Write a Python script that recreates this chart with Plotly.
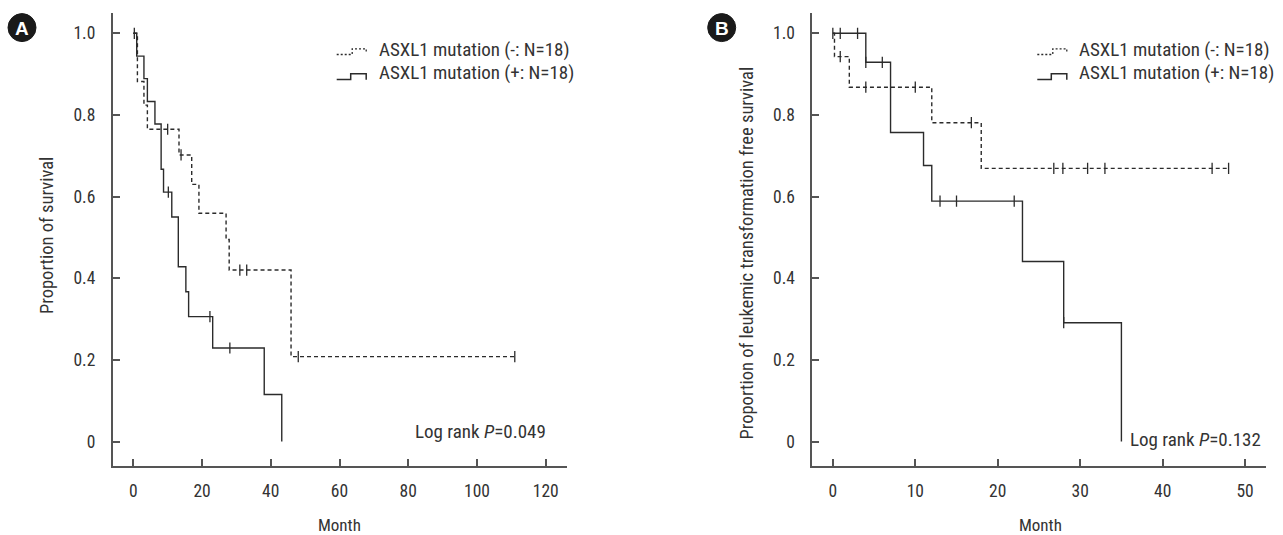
import plotly.graph_objects as go

# ---------------- data ----------------
# Panel A: overall survival
A_neg_time = [0, 1.2, 3.1, 4.1, 13.3, 17.0, 19.1, 27.0, 27.9, 45.9, 111.0]
A_neg_surv = [1.0, 0.882, 0.824, 0.765, 0.702, 0.630, 0.559, 0.495, 0.420, 0.208, 0.208]
A_neg_censor = [0.3, 10.0, 13.9, 31.0, 33.0, 48.0, 111.0]

A_pos_time = [0, 1.0, 3.1, 4.1, 6.3, 8.1, 8.8, 11.2, 13.1, 15.3, 16.1, 23.1, 38.1, 43.2]
A_pos_surv = [1.0, 0.944, 0.889, 0.833, 0.778, 0.667, 0.611, 0.550, 0.428, 0.367, 0.306, 0.229, 0.115, 0.0]
A_pos_censor = [10.2, 22.3, 28.1]

# Panel B: leukemic transformation free survival
B_neg_time = [0, 0.2, 2.0, 12.0, 18.0, 48.0]
B_neg_surv = [1.0, 0.943, 0.868, 0.781, 0.669, 0.669]
B_neg_censor = [0.9, 4.0, 10.0, 16.8, 26.8, 27.9, 30.9, 33.0, 46.0, 48.0]

B_pos_time = [0, 4.0, 7.0, 11.0, 12.0, 23.0, 28.0, 35.0]
B_pos_surv = [1.0, 0.929, 0.757, 0.676, 0.589, 0.441, 0.291, 0.0]
B_pos_censor = [0.0, 0.9, 3.0, 4.0, 6.0, 13.0, 15.0, 22.0, 28.0]

A_xticks = [0, 20, 40, 60, 80, 100, 120]
B_xticks = [0, 10, 20, 30, 40, 50]
y_ticks = [0, 0.2, 0.4, 0.6, 0.8, 1.0]
y_ticktext = ["0", "0.2", "0.4", "0.6", "0.8", "1.0"]

legend_neg = "ASXL1 mutation (-: N=18)"
legend_pos = "ASXL1 mutation (+: N=18)"
A_pval = "Log rank <i>P</i>=0.049"
B_pval = "Log rank <i>P</i>=0.132"
A_ytitle = "Proportion of survival"
B_ytitle = "Proportion of leukemic transformation free survival"
xtitle = "Month"

# ---------------- style ----------------
W, H = 1283, 535
FONT = "Roboto Condensed, Liberation Sans Narrow, Roboto, sans-serif"
LINE = "#2b2b2b"
AX = "#555555"
TXT = "#333333"


def px(x):
    return x / W


def py(y):
    return 1 - y / H


def step_value(times, surv, t):
    v = surv[0]
    for ti, si in zip(times, surv):
        if t >= ti:
            v = si
    return v


fig = go.Figure()


def add_curve(times, surv, censor, dash, xa, ya):
    fig.add_trace(go.Scatter(
        x=times, y=surv, mode="lines", line_shape="hv",
        line=dict(color=LINE, width=1.4, dash=dash),
        xaxis=xa, yaxis=ya, showlegend=False, hoverinfo="skip"))
    fig.add_trace(go.Scatter(
        x=censor, y=[step_value(times, surv, t) for t in censor], mode="markers",
        marker=dict(symbol="line-ns", size=8, line=dict(color=LINE, width=1.3)),
        xaxis=xa, yaxis=ya, showlegend=False, hoverinfo="skip"))


add_curve(A_neg_time, A_neg_surv, A_neg_censor, "4px,3px", "x", "y")
add_curve(A_pos_time, A_pos_surv, A_pos_censor, "solid", "x", "y")
add_curve(B_neg_time, B_neg_surv, B_neg_censor, "4px,3px", "x2", "y2")
add_curve(B_pos_time, B_pos_surv, B_pos_censor, "solid", "x2", "y2")

ydom = [py(465.5), py(12.7)]
common_ax = dict(showgrid=False, zeroline=False, showline=True, linecolor=AX, linewidth=1.6,
                 ticks="inside", ticklen=7, tickwidth=1.5, tickcolor=AX,
                 tickfont=dict(family=FONT, size=17.5, color=TXT), automargin=False)

fig.update_layout(
    width=W, height=H, margin=dict(l=0, r=0, t=0, b=0),
    paper_bgcolor="white", plot_bgcolor="white", showlegend=False,
    xaxis=dict(domain=[px(112.7), px(567.3)], range=[-5.99, 126.28], tickvals=A_xticks,
               anchor="y", ticklabelstandoff=9, **common_ax),
    yaxis=dict(domain=ydom, range=[-0.0588, 1.0505], tickvals=y_ticks, ticktext=y_ticktext,
               anchor="x", ticklabelstandoff=12, **common_ax),
    xaxis2=dict(domain=[px(812.3), px(1265.7)], range=[-2.49, 52.5], tickvals=B_xticks,
                anchor="y2", ticklabelstandoff=9, **common_ax),
    yaxis2=dict(domain=ydom, range=[-0.0588, 1.0505], tickvals=y_ticks, ticktext=y_ticktext,
                anchor="x2", ticklabelstandoff=12, **common_ax),
)

ann = []
shapes = []


def text(x, y, s, size=19, xanchor="center", angle=0, color=TXT, family=FONT, bold=False):
    ann.append(dict(x=px(x), y=py(y), xref="paper", yref="paper", text=("<b>%s</b>" % s) if bold else s,
                    showarrow=False, xanchor=xanchor, yanchor="middle", textangle=angle,
                    font=dict(family=family, size=size, color=color)))


for off, ytitle, ytx, yty, pval, pvx, pvy, lab, labx in [
        (0, A_ytitle, 47, 236, A_pval, 548, 431.5, "A", 22),
        (700.6, B_ytitle, 746.5, 253, B_pval, 1263.3, 439.3, "B", 721.7)]:
    # legend
    text(376.7 + off, 49.2, legend_neg, xanchor="left")
    text(376.7 + off, 72.5, legend_pos, xanchor="left")
    x0 = 336.7 + off
    path_d = "M %f,%f L %f,%f L %f,%f L %f,%f L %f,%f" % (
        px(x0), py(54.5), px(x0 + 15.5), py(54.5), px(x0 + 15.5), py(48.8),
        px(x0 + 29.5), py(48.8), px(x0 + 29.5), py(53.5))
    shapes.append(dict(type="path", path=path_d, xref="paper", yref="paper",
                       line=dict(color=LINE, width=1.3, dash="2px,2px")))
    path_s = "M %f,%f L %f,%f L %f,%f L %f,%f L %f,%f" % (
        px(x0), py(79.5), px(x0 + 14), py(79.5), px(x0 + 14), py(73.8),
        px(x0 + 29.5), py(73.8), px(x0 + 29.5), py(79.8))
    shapes.append(dict(type="path", path=path_s, xref="paper", yref="paper",
                       line=dict(color=LINE, width=1.5)))
    # titles
    text(ytx, yty, ytitle, size=18.5, angle=-90)
    text((112.7 + 567.3) / 2 + off, 525, xtitle, size=17)
    text(pvx, pvy, pval, xanchor="right")
    # panel label
    r = 14
    shapes.append(dict(type="circle", xref="paper", yref="paper",
                       x0=px(labx - r), x1=px(labx + r), y0=py(27.6 + r), y1=py(27.6 - r),
                       fillcolor="#1a1a1a", line=dict(color="#1a1a1a", width=1)))
    text(labx, 28.5, lab, size=19, color="white", family="Liberation Sans, Arial, sans-serif", bold=True)

fig.update_layout(annotations=ann, shapes=shapes)
fig.write_html("out.html", config={"displayModeBar": False},
               post_script="document.body.style.margin='0';document.body.style.overflow='hidden';")
